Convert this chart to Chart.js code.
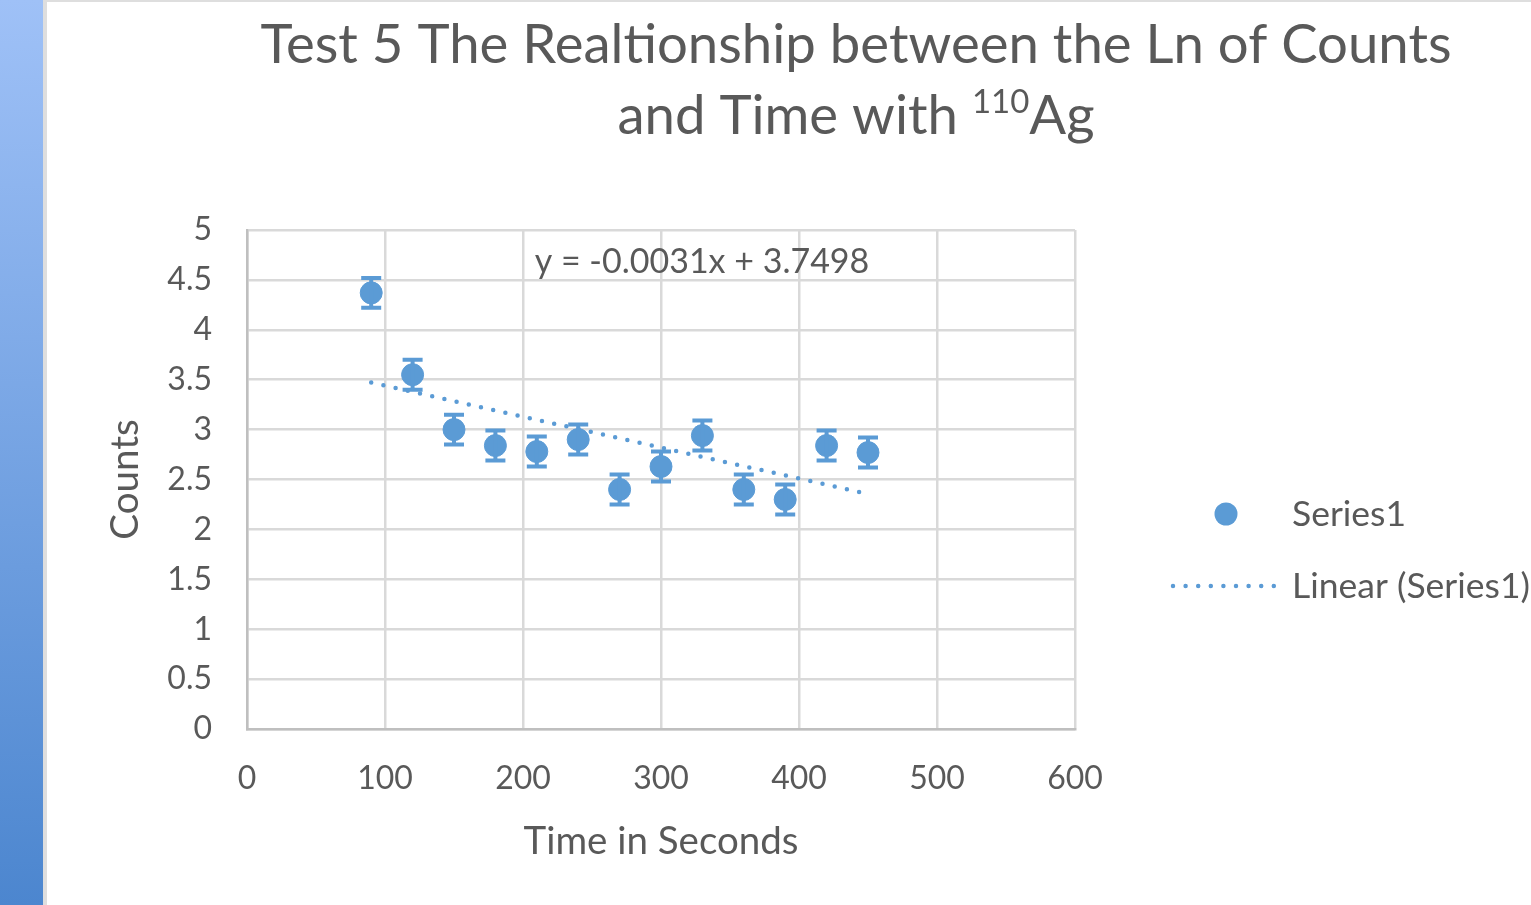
<!DOCTYPE html>
<html>
<head>
<meta charset="utf-8">
<script src="https://cdn.jsdelivr.net/npm/chart.js@4.4.1/dist/chart.umd.min.js"></script>
<style>
  html, body { margin: 0; padding: 0; background: #fff; overflow: hidden; }
  #strip { position: absolute; left: 0; top: 0; width: 43px; height: 905px;
           background: linear-gradient(#9fc1f7, #4c86cf); }
  #edge { position: absolute; left: 43px; top: 0; width: 4px; height: 905px; background: #dedede; }
  #topEdge { position: absolute; left: 43px; top: 0; width: 1488px; height: 2px; background: #dedede; }
  #chart { position: absolute; left: 0; top: 0; }
</style>
</head>
<body>
<div id="strip"></div>
<div id="edge"></div>
<div id="topEdge"></div>
<canvas id="chart" width="1531" height="905"></canvas>
<script>
// Elapsed time (s) and ln of counts for the 110Ag decay run
const times     = [90, 120, 150, 180, 210, 240, 270, 300, 330, 360, 390, 420, 450];
const lnCounts  = [4.37, 3.55, 3.00, 2.84, 2.78, 2.90, 2.40, 2.63, 2.94, 2.40, 2.30, 2.84, 2.77];
const lnErrors  = [0.15, 0.15, 0.15, 0.15, 0.15, 0.15, 0.15, 0.15, 0.15, 0.15, 0.15, 0.15, 0.15];

// Least-squares fit shown on the chart
const fitSlope = -0.0031;
const fitIntercept = 3.7498;
const fitLabel = 'y = -0.0031x + 3.7498';

// Axis ranges [min, max, step]
const xRange = [0, 600, 100];
const yRange = [0, 5, 0.5];

const BLUE = '#5b9bd5';
const TEXT = '#595959';
const FONT = 'Lato, "Open Sans", sans-serif';

const points = times.map((t, i) => ({ x: t, y: lnCounts[i] }));
const xMin = Math.min(...times), xMax = Math.max(...times);
const fitPoints = [xMin, xMax].map(x => ({ x, y: fitSlope * x + fitIntercept }));

const decorations = {
  id: 'decorations',
  afterDatasetsDraw(chart) {
    const { ctx, scales: { x, y } } = chart;
    ctx.save();
    // error bars
    ctx.strokeStyle = BLUE;
    ctx.lineWidth = 4;
    times.forEach((t, i) => {
      const px = x.getPixelForValue(t);
      const top = y.getPixelForValue(lnCounts[i] + lnErrors[i]);
      const bot = y.getPixelForValue(lnCounts[i] - lnErrors[i]);
      ctx.beginPath();
      ctx.moveTo(px, top); ctx.lineTo(px, bot);
      ctx.moveTo(px - 10, top); ctx.lineTo(px + 10, top);
      ctx.moveTo(px - 10, bot); ctx.lineTo(px + 10, bot);
      ctx.stroke();
    });
    ctx.restore();
  },
  afterDraw(chart) {
    const { ctx } = chart;
    ctx.save();
    ctx.fillStyle = TEXT;
    ctx.textBaseline = 'alphabetic';

    // title
    const big = '54.5px ' + FONT, small = '33px ' + FONT;
    ctx.font = big;
    ctx.textAlign = 'center';
    ctx.fillText('Test 5 The Realtionship between the Ln of Counts', 856, 63);
    const partA = 'and Time with ';
    const sup = '110';
    const partB = 'Ag';
    const wA = ctx.measureText(partA).width;
    const wB = ctx.measureText(partB).width;
    ctx.font = small;
    const wS = ctx.measureText(sup).width;
    const sx = 856 - (wA + wS + wB) / 2;
    ctx.textAlign = 'left';
    ctx.font = big;
    ctx.fillText(partA, sx, 134);
    ctx.font = small;
    ctx.fillText(sup, sx + wA, 113);
    ctx.font = big;
    ctx.fillText(partB, sx + wA + wS, 134);

    // fit equation
    ctx.font = '34px ' + FONT;
    ctx.textAlign = 'center';
    ctx.fillText(fitLabel, 702, 273);

    // legend
    ctx.textAlign = 'left';
    ctx.textBaseline = 'middle';
    ctx.font = '35.5px ' + FONT;
    ctx.fillStyle = BLUE;
    ctx.beginPath();
    ctx.arc(1226, 514, 11.5, 0, Math.PI * 2);
    ctx.fill();
    ctx.strokeStyle = BLUE;
    ctx.lineWidth = 4.5;
    ctx.lineCap = 'round';
    ctx.setLineDash([0, 12.6]);
    ctx.beginPath();
    ctx.moveTo(1173, 586); ctx.lineTo(1275, 586);
    ctx.stroke();
    ctx.setLineDash([]);
    ctx.fillStyle = TEXT;
    ctx.fillText('Series1', 1292, 515);
    ctx.fillText('Linear (Series1)', 1292, 587);
    ctx.restore();
  }
};

new Chart(document.getElementById('chart'), {
  type: 'scatter',
  data: {
    datasets: [
      {
        label: 'Linear (Series1)',
        type: 'line',
        data: fitPoints,
        order: 0,
        borderColor: BLUE,
        borderWidth: 4.5,
        borderDash: [0, 12.5],
        borderCapStyle: 'round',
        pointRadius: 0,
        fill: false
      },
      {
        label: 'Series1',
        data: points,
        order: 1,
        backgroundColor: BLUE,
        borderColor: BLUE,
        pointRadius: 11,
        pointHoverRadius: 11
      }
    ]
  },
  options: {
    responsive: false,
    animation: false,
    devicePixelRatio: 1,
    layout: { padding: { left: 100, top: 230, right: 456, bottom: 0 } },
    plugins: { legend: { display: false }, title: { display: false }, tooltip: { enabled: false } },
    scales: {
      x: {
        type: 'linear',
        min: xRange[0], max: xRange[1],
        ticks: { stepSize: xRange[2], color: TEXT, font: { family: FONT, size: 32 }, padding: 30 },
        grid: { color: '#d9d9d9', lineWidth: 2.5, drawTicks: false },
        border: { color: '#bfbfbf', width: 2.5 },
        title: { display: true, text: 'Time in Seconds', color: TEXT, font: { family: FONT, size: 38.5 }, padding: { top: 0, bottom: 40 } },
        afterFit(scale) { scale.height = 176; }
      },
      y: {
        type: 'linear',
        min: yRange[0], max: yRange[1],
        ticks: {
          stepSize: yRange[2], color: TEXT, font: { family: FONT, size: 32 }, padding: 35,
          callback: v => String(+v.toFixed(1))
        },
        grid: { color: '#d9d9d9', lineWidth: 2.5, drawTicks: false },
        border: { color: '#bfbfbf', width: 2.5 },
        title: { display: true, text: 'Counts', color: TEXT, font: { family: FONT, size: 38.5 }, padding: { top: 2, bottom: 0 } },
        afterFit(scale) { scale.width = 147; }
      }
    }
  },
  plugins: [decorations]
});
</script>
</body>
</html>
